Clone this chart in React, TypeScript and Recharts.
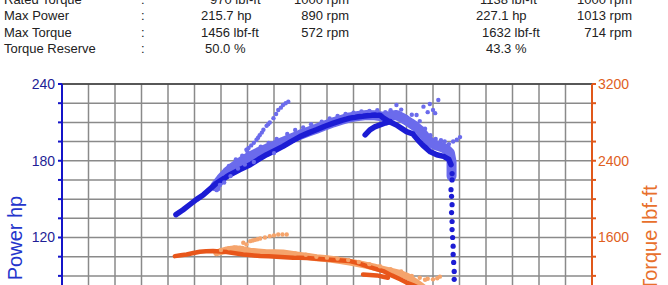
import React from 'react';
import { ComposedChart, Line, Scatter, XAxis, YAxis, CartesianGrid, ReferenceLine } from 'recharts';

// ---------- header table ----------
const headerLabels = ['Rated Torque', 'Max Power', 'Max Torque', 'Torque Reserve'];
const run1Values = ['970 lbf-ft', '215.7 hp', '1456 lbf-ft', '50.0 %'];
const run1Rpm = ['1000 rpm', '890 rpm', '572 rpm', ''];
const run2Values = ['1138 lbf-ft', '227.1 hp', '1632 lbf-ft', '43.3 %'];
const run2Rpm = ['1000 rpm', '1013 rpm', '714 rpm', ''];
const run1ValueX = [210, 201, 201, 205];
const run2ValueX = [480, 476, 482, 486];

// ---------- axes ----------
const rpmTicks = [300, 350, 400, 450, 500, 550, 600, 650, 700, 750, 800, 850, 900, 950, 1000, 1050, 1100, 1150, 1200, 1250, 1300];
const hpTicks = [0, 15, 30, 45, 60, 75, 90, 105, 120, 135, 150, 165, 180, 195, 210, 225, 240];
const tqTicks = [0, 200, 400, 600, 800, 1000, 1200, 1400, 1600, 1800, 2000, 2200, 2400, 2600, 2800, 3000, 3200];

// ---------- run 1 (dark) power ----------
const run1PowerCurve: [number, number][] = [
  [515, 137.9], [528, 141.5], [541, 145.7], [554, 149.8], [567, 153.5], [580, 158.2], [592, 162.6], [605, 166],
  [617, 169.1], [636, 173.2], [655, 176.9], [670, 180.8], [686, 184.7], [702, 188], [717, 191.2], [733, 195.2],
  [749, 198.9], [765, 201.8], [780, 204.2], [796, 207], [812, 209.4], [828, 211.6], [843, 213.3], [859, 214.4],
  [875, 215.1], [890, 215.7], [900, 215.6], [906, 213.5], [918, 210.5], [931, 208], [940, 205.5], [950, 202.8],
  [962, 201], [972, 196], [981, 192], [995, 187], [1007, 184.7], [1020, 183.4], [1030, 181], [1034, 177],
];
const run1PowerSeg2: [number, number][] = [
  [872, 200.3], [881, 204.2], [890, 206.5], [900, 208], [910, 209.5], [919, 210.6],
];
const run1PowerDrop: [number, number][] = [
  [1036, 170], [1036, 165], [1034, 157.4], [1035, 152.2], [1036, 145.7], [1035, 139.5], [1036, 132.5], [1036, 126.2],
  [1037, 120], [1038, 113.2], [1038, 106.8], [1039, 100.5], [1040, 93.5], [1040, 87.3], [1041, 79.5], [1041, 72],
  [1042, 64], [1042, 56], [1043, 48],
];

// ---------- run 2 (light) power ----------
const run2PowerBand: [number, number][] = [
  [589, 160], [600, 166], [611, 171], [623, 175], [639, 179.5], [655, 183.4], [670, 186.5], [686, 189.4],
  [702, 192], [717, 194.8], [733, 197.6], [749, 200.3], [765, 202.8], [780, 205], [796, 207.6], [812, 210],
  [828, 212], [843, 213.9], [859, 215], [875, 215.8], [890, 215.5], [906, 214.5], [918, 215], [931, 215.8],
  [944, 213], [957, 209.6], [966, 207], [975, 204], [985, 199], [994, 194.8], [1003, 192.5], [1013, 191.2],
  [1020, 190], [1026, 188.6], [1032, 186], [1035, 179.2], [1035, 168],
];
const run2PowerPoints: [number, number][] = [
  [648, 188.6], [652, 190], [657, 192], [662, 194], [667, 196.4], [670, 198], [673, 200], [677, 202], [680, 204.2],
  [686, 207.3], [689, 208.5], [692, 210], [699, 213.3], [704, 216.5], [708, 219.7], [713, 221.5], [717, 223.6],
  [722, 225], [727, 226.2],
  [592, 157], [595, 158], [598, 161], [603, 170], [606, 163], [615, 176], [618, 168], [628, 181], [632, 174],
  [640, 184], [645, 177], [650, 187], [662, 179], [675, 191], [690, 194], [700, 186], [705, 197], [725, 201],
  [740, 204], [755, 206], [770, 208.5], [790, 210.5], [805, 213], [820, 215], [835, 216.5], [850, 217.5],
  [865, 218.5], [880, 219], [895, 219.5], [910, 218], [920, 219.5], [931, 223.6], [940, 220], [950, 214],
  [960, 216], [969, 215.8], [975, 211], [982, 222.3], [990, 218], [994, 224.4], [1000, 219.7], [1004, 217.2],
  [1010, 227.5], [985, 205], [995, 200], [1005, 197], [1015, 196], [1022, 195], [1030, 193], [1038, 195],
  [1045, 196.4], [1051, 198.5], [1034, 172], [1036, 168], [1035, 165],
];

// ---------- run 1 (dark) torque ----------
const run1TorqueCurve: [number, number][] = [
  [513, 1406], [524, 1415], [535, 1423], [548, 1438], [560, 1451], [572, 1456], [585, 1460], [598, 1455],
  [611, 1448], [626, 1436], [642, 1423], [658, 1414], [674, 1406], [690, 1404], [705, 1400], [720, 1394],
  [736, 1389], [749, 1388], [762, 1386], [780, 1379], [800, 1371], [820, 1364], [843, 1354], [860, 1330],
  [875, 1302], [890, 1276], [906, 1250], [922, 1205], [938, 1164], [950, 1130], [962, 1105], [975, 1070],
  [988, 1015], [1007, 963], [1020, 945], [1032, 920], [1035, 880],
];
const run1TorqueSeg2: [number, number][] = [
  [868, 1215], [881, 1210], [894, 1205], [906, 1191], [915, 1180],
];
const run1TorqueDrop: [number, number][] = [
  [1036, 836], [1035, 790], [1036, 739], [1036, 690], [1036, 639], [1037, 590], [1038, 541], [1039, 490], [1040, 441],
];

// ---------- run 2 (light) torque ----------
const run2TorqueBand: [number, number][] = [
  [592, 1441], [603, 1458], [611, 1470], [620, 1478], [630, 1482], [642, 1470], [655, 1458], [670, 1449],
  [686, 1441], [702, 1441], [717, 1438], [733, 1426], [749, 1413], [765, 1401], [780, 1389], [796, 1380],
  [812, 1371], [828, 1358], [843, 1343], [860, 1326], [875, 1309], [890, 1290], [906, 1268], [922, 1247],
  [938, 1226], [953, 1190], [969, 1130], [985, 1065], [1000, 1010], [1013, 990], [1030, 965], [1035, 930],
];
const run2TorquePoints: [number, number][] = [
  [636, 1493], [642, 1545], [648, 1527], [655, 1562], [660, 1568], [664, 1575], [669, 1582], [674, 1590],
  [683, 1600], [692, 1614], [700, 1622], [708, 1631], [716, 1632], [724, 1631],
  [600, 1470], [615, 1488], [625, 1495], [640, 1490], [660, 1468], [680, 1455], [700, 1452], [720, 1448],
  [740, 1435], [760, 1420], [780, 1400], [800, 1390], [820, 1380], [840, 1365], [860, 1345], [880, 1322],
  [900, 1300], [920, 1270], [940, 1245], [960, 1200], [975, 1180], [990, 1170], [1000, 1164], [1008, 1175],
  [1013, 1192], [985, 1160],
];

const toPts = (arr: [number, number][]) => arr.map(([rpm, v]) => ({ rpm, v }));

const DARK_BLUE = '#1c1cd4';
const LIGHT_BLUE = '#6b6bec';
const DARK_ORANGE = '#e8561a';
const LIGHT_ORANGE = '#f5a46c';

const dot = (color: string, r: number) => (props: any) => (
  <circle cx={props.cx} cy={props.cy} r={r} fill={color} />
);

const font = 'Arial, "Liberation Sans", Helvetica, sans-serif';

export default function App() {
  const rowTop = (i: number) => -8.1 + i * 16.3;
  const txt = (s: string, left: number, top: number, key: string, right?: boolean) => (
    <div
      key={key}
      style={{
        position: 'absolute',
        top,
        ...(right ? { right: 668 - left } : { left }),
        fontSize: 13,
        lineHeight: '16px',
        fontFamily: font,
        color: '#222',
        whiteSpace: 'nowrap',
      }}
    >
      {s}
    </div>
  );

  return (
    <div style={{ position: 'fixed', left: 0, top: 0, width: 668, height: 285, overflow: 'hidden', background: '#fff' }}>
      {headerLabels.map((l, i) => (
        <React.Fragment key={'r' + i}>
          {txt(l, 4, rowTop(i), 'l' + i)}
          {txt(':', 141, rowTop(i), 'c' + i)}
          {txt(run1Values[i], run1ValueX[i], rowTop(i), 'a' + i)}
          {run1Rpm[i] ? txt(run1Rpm[i], 349, rowTop(i), 'b' + i, true) : null}
          {txt(run2Values[i], run2ValueX[i], rowTop(i), 'd' + i)}
          {run2Rpm[i] ? txt(run2Rpm[i], 632, rowTop(i), 'e' + i, true) : null}
        </React.Fragment>
      ))}

      <div style={{ position: 'absolute', left: 0, top: 0 }}>
        <ComposedChart width={668} height={431} margin={{ top: 84, right: 0, bottom: 10, left: 0 }}>
          <CartesianGrid yAxisId="hp" stroke="#8a8a8a" strokeWidth={1.5} />
          <XAxis
            dataKey="rpm"
            type="number"
            domain={[300, 1300]}
            ticks={rpmTicks}
            interval={0}
            height={30}
            tickFormatter={(v: number) => (v % 100 === 0 ? String(v) : '')}
            tick={{ fill: '#222', fontSize: 13, fontFamily: font }}
            stroke="#444"
          />
          <YAxis
            yAxisId="hp"
            orientation="left"
            width={62}
            domain={[0, 240]}
            ticks={hpTicks}
            interval={0}
            allowDataOverflow
            tickSize={4}
            tickMargin={3}
            tickFormatter={(v: number) => (v % 60 === 0 ? String(v) : '')}
            tick={{ fill: '#1e1e96', fontSize: 14, fontFamily: font }}
            axisLine={{ stroke: '#1414c8', strokeWidth: 2 }}
            tickLine={{ stroke: '#1414c8', strokeWidth: 2 }}
          />
          <YAxis
            yAxisId="tq"
            orientation="right"
            width={76}
            domain={[0, 3200]}
            ticks={tqTicks}
            interval={0}
            allowDataOverflow
            tickSize={4}
            tickMargin={2}
            tickFormatter={(v: number) => (v % 800 === 0 ? String(v) : '')}
            tick={{ fill: '#e0601e', fontSize: 14, fontFamily: font }}
            axisLine={{ stroke: '#e0581a', strokeWidth: 2 }}
            tickLine={{ stroke: '#e0581a', strokeWidth: 2 }}
          />
          <ReferenceLine yAxisId="hp" y={240} stroke="#3c3c3c" strokeWidth={1.6} />

          {/* torque run 2 (light) */}
          <Line yAxisId="tq" data={toPts(run2TorqueBand)} dataKey="v" stroke={LIGHT_ORANGE} strokeWidth={7}
            strokeLinecap="round" strokeLinejoin="round" dot={false} activeDot={false} isAnimationActive={false} type="linear" />
          <Scatter yAxisId="tq" data={toPts(run2TorquePoints)} dataKey="v" fill={LIGHT_ORANGE}
            shape={dot(LIGHT_ORANGE, 2.2)} isAnimationActive={false} />
          {/* torque run 1 (dark) */}
          <Line yAxisId="tq" data={toPts(run1TorqueCurve)} dataKey="v" stroke={DARK_ORANGE} strokeWidth={4.5}
            strokeLinecap="round" strokeLinejoin="round" dot={false} activeDot={false} isAnimationActive={false} type="linear" />
          <Line yAxisId="tq" data={toPts(run1TorqueSeg2)} dataKey="v" stroke={DARK_ORANGE} strokeWidth={4.5}
            strokeLinecap="round" strokeLinejoin="round" dot={false} activeDot={false} isAnimationActive={false} type="linear" />
          <Scatter yAxisId="tq" data={toPts(run1TorqueDrop)} dataKey="v" fill={DARK_ORANGE}
            shape={dot(DARK_ORANGE, 2.4)} isAnimationActive={false} />

          {/* power run 2 (light) */}
          <Line yAxisId="hp" data={toPts(run2PowerBand)} dataKey="v" stroke={LIGHT_BLUE} strokeWidth={10}
            strokeLinecap="round" strokeLinejoin="round" dot={false} activeDot={false} isAnimationActive={false} type="linear" />
          <Scatter yAxisId="hp" data={toPts(run2PowerPoints)} dataKey="v" fill={LIGHT_BLUE}
            shape={dot(LIGHT_BLUE, 2.2)} isAnimationActive={false} />
          {/* power run 1 (dark) */}
          <Line yAxisId="hp" data={toPts(run1PowerCurve)} dataKey="v" stroke={DARK_BLUE} strokeWidth={5.5}
            strokeLinecap="round" strokeLinejoin="round" dot={false} activeDot={false} isAnimationActive={false} type="linear" />
          <Line yAxisId="hp" data={toPts(run1PowerSeg2)} dataKey="v" stroke={DARK_BLUE} strokeWidth={5.5}
            strokeLinecap="round" strokeLinejoin="round" dot={false} activeDot={false} isAnimationActive={false} type="linear" />
          <Scatter yAxisId="hp" data={toPts(run1PowerDrop)} dataKey="v" fill={DARK_BLUE}
            shape={dot(DARK_BLUE, 2.6)} isAnimationActive={false} />
        </ComposedChart>
      </div>

      <div style={{
        position: 'absolute', left: 15, top: 238, transform: 'translate(-50%, -50%) rotate(-90deg)',
        fontSize: 20, fontFamily: font, color: '#2435cc', whiteSpace: 'nowrap', lineHeight: '20px',
      }}>Power hp</div>
      <div style={{
        position: 'absolute', left: 650, top: 238, transform: 'translate(-50%, -50%) rotate(-90deg)',
        fontSize: 20, fontFamily: font, color: '#e8702c', whiteSpace: 'nowrap', lineHeight: '20px',
      }}>Torque lbf-ft</div>
    </div>
  );
}
